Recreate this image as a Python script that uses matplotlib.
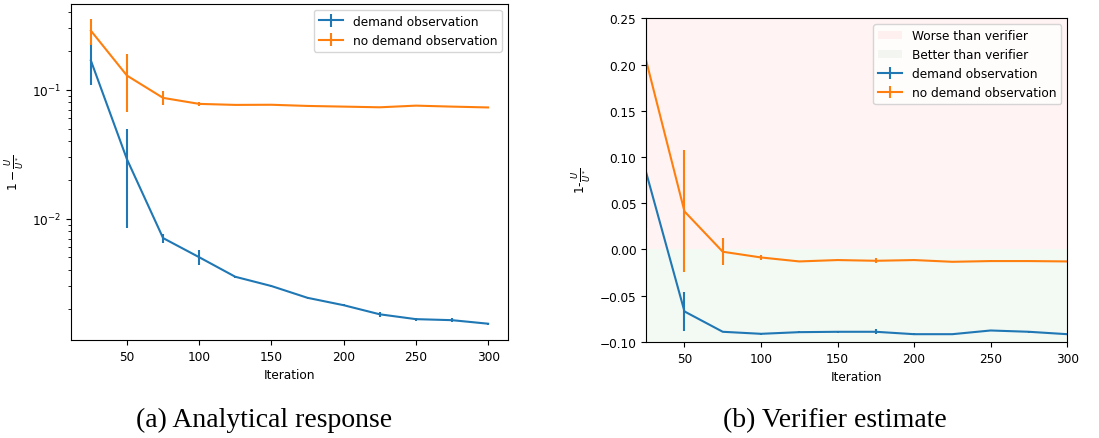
import matplotlib
matplotlib.use("Agg")
import matplotlib.pyplot as plt
from matplotlib.patches import Patch
import numpy as np

iterations = [25, 50, 75, 100, 125, 150, 175, 200, 225, 250, 275, 300]

# (a) Analytical response
a_demand = [0.169, 0.0289, 0.00707, 0.00502, 0.00354, 0.0030, 0.00243, 0.00213, 0.00181, 0.00166, 0.00163, 0.00153]
a_demand_err = [0.06, 0.0205, 0.0006, 0.00068, 0.00005, 0.00004, 0.00003, 0.00004, 0.00007, 0.00004, 0.00006, 0.00003]
a_nodemand = [0.288, 0.129, 0.0866, 0.0778, 0.0764, 0.0766, 0.0750, 0.0741, 0.0732, 0.0754, 0.0741, 0.0730]
a_nodemand_err = [0.066, 0.062, 0.011, 0.003, 0.0005, 0.0005, 0.0006, 0.0005, 0.0008, 0.0005, 0.0005, 0.0005]

# (b) Verifier estimate
b_demand = [0.083, -0.0671, -0.0891, -0.0913, -0.0895, -0.0891, -0.0891, -0.0917, -0.0917, -0.0877, -0.0891, -0.0917]
b_demand_err = [0.06, 0.021, 0.0005, 0.0008, 0.0008, 0.0008, 0.0025, 0.0008, 0.0005, 0.0005, 0.0008, 0.0005]
b_nodemand = [0.204, 0.0411, -0.0025, -0.0087, -0.0130, -0.0115, -0.0123, -0.0115, -0.0134, -0.0126, -0.0126, -0.0130]
b_nodemand_err = [0.075, 0.066, 0.0145, 0.003, 0.0005, 0.0012, 0.0025, 0.0005, 0.0005, 0.0008, 0.0005, 0.0005]

labels = ["demand observation", "no demand observation"]
captions = ["(a) Analytical response", "(b) Verifier estimate"]

plt.rcParams['font.size'] = 8.7
fig = plt.figure(figsize=(10.99, 4.39), dpi=100)

ax1 = fig.add_axes([0.0646, 0.223, 0.3976, 0.766])
ax1.errorbar(iterations, a_demand, yerr=a_demand_err, label=labels[0], color='C0')
ax1.errorbar(iterations, a_nodemand, yerr=a_nodemand_err, label=labels[1], color='C1')
ax1.set_yscale('log')
ax1.set_xlabel('Iteration')
ax1.set_ylabel(r'$1-\frac{U}{U^*}$')
ax1.legend(loc='upper right')

ax2 = fig.add_axes([0.588, 0.219, 0.383, 0.737])
ax2.axhspan(0, 0.25, color='#ff6666', alpha=0.08, lw=0)
ax2.axhspan(-0.1, 0, color='#66bb66', alpha=0.08, lw=0)
h1 = ax2.errorbar(iterations, b_demand, yerr=b_demand_err, label=labels[0], color='C0')
h2 = ax2.errorbar(iterations, b_nodemand, yerr=b_nodemand_err, label=labels[1], color='C1')
ax2.set_xlim(25, 300)
ax2.set_ylim(-0.10, 0.25)
ax2.set_xlabel('Iteration')
ax2.set_ylabel(r'1-$\frac{U}{U^*}$')
handles = [Patch(facecolor='#ff6666', alpha=0.08, label='Worse than verifier'),
           Patch(facecolor='#66bb66', alpha=0.08, label='Better than verifier'), h1, h2]
ax2.legend(handles=handles, loc='upper right')

fig.text(0.240, 0.043, captions[0], ha='center', va='center', fontsize=20, family='Liberation Serif')
fig.text(0.760, 0.043, captions[1], ha='center', va='center', fontsize=20, family='Liberation Serif')

fig.savefig('out.png', dpi=100)
